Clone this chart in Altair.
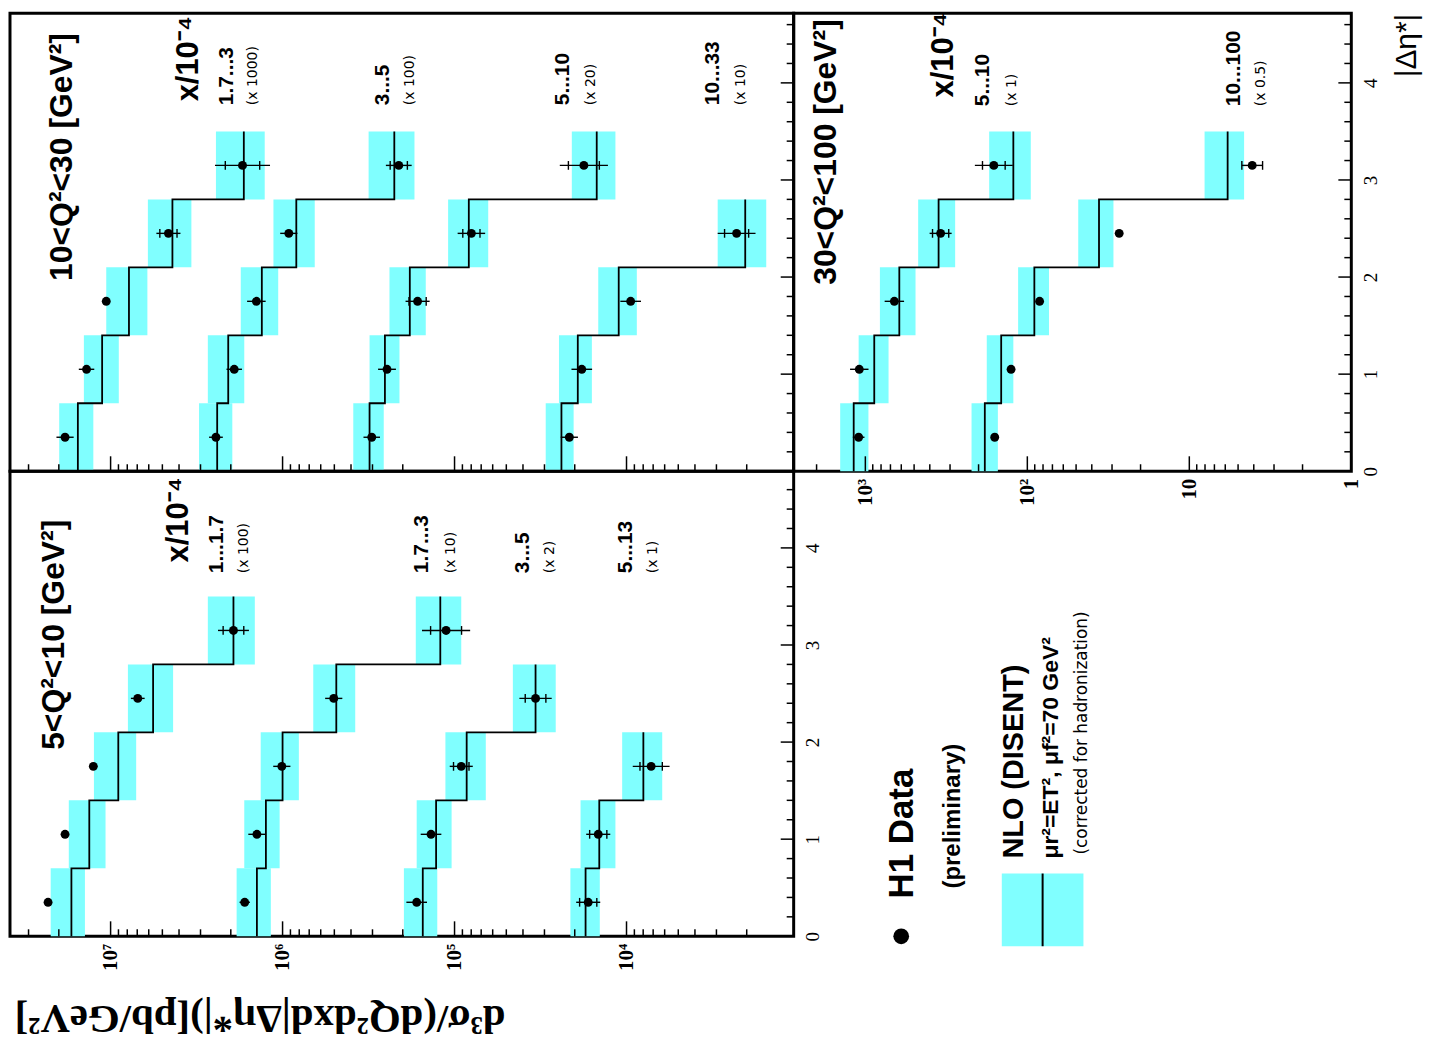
import math
import altair as alt
import pandas as pd
import numpy as np

BAND_COLOR = "#80ffff"
SANS = "Liberation Sans"
SERIF = "Liberation Serif"
SMALL = "DejaVu Sans"

# |Delta eta*| bin edges
ETA_EDGES = [0.0, 0.7, 1.4, 2.1, 2.8, 3.5]
HEADER_TEXT = "x/10⁻⁴"

# ---------------- 5 < Q^2 < 10 GeV^2 ----------------
Q1_TITLE = "5<Q²<10 [GeV²]"
Q1_XBIN = ["1...1.7", "1.7...3", "3...5", "5...13"]
Q1_FACTOR_TXT = ["(x 100)", "(x 10)", "(x 2)", "(x 1)"]
Q1_FACTOR = [100, 10, 2, 1]
Q1_DATA = [
    [2.31e5, 1.84e5, 1.26e5, 6.95e4, 1.93e4],
    [1.66e5, 1.41e5, 1.01e5, 5.04e4, 1.12e4],
    [8.30e4, 6.85e4, 4.57e4, 1.69e4],
    [1.67e4, 1.46e4, 7.19e3],
]
Q1_NLO = [
    [1.69e5, 1.33e5, 9.02e4, 5.66e4, 1.93e4],
    [1.41e5, 1.25e5, 1.00e5, 4.87e4, 1.21e4],
    [7.65e4, 6.40e4, 4.25e4, 1.69e4],
    [1.73e4, 1.44e4, 7.98e3],
]
Q1_NLO_LO = [
    [1.41e5, 1.07e5, 7.10e4, 4.33e4, 1.45e4],
    [1.17e5, 1.04e5, 8.04e4, 3.78e4, 9.14e3],
    [6.30e4, 5.20e4, 3.29e4, 1.29e4],
    [1.43e4, 1.16e4, 6.20e3],
]
Q1_NLO_HI = [
    [2.23e5, 1.75e5, 1.25e5, 7.93e4, 2.72e4],
    [1.85e5, 1.67e5, 1.34e5, 6.63e4, 1.68e4],
    [9.85e4, 8.30e4, 5.65e4, 2.29e4],
    [2.12e4, 1.85e4, 1.06e4],
]
Q1_ERR_TOT = [[0.02, 0.02, 0.02, 0.04, 0.09], [0.03, 0.05, 0.05, 0.05, 0.14],
              [0.06, 0.06, 0.067, 0.094], [0.07, 0.07, 0.107]]
Q1_ERR_STAT = [[0.02, 0.02, 0.02, 0.03, 0.06], [0.02, 0.03, 0.03, 0.03, 0.09],
               [0.04, 0.04, 0.045, 0.06], [0.05, 0.05, 0.065]]
# annotation anchors (x value, eta)
Q1_TITLE_POS = (2.14e7, 1.92)
Q1_HEAD_POS = (3.98e6, 3.85)
Q1_BIN_X = [2.40e6, 1.54e5, 4.01e4, 1.01e4]
Q1_FAC_X = [1.68e6, 1.05e5, 2.79e4, 6.98e3]
Q1_LABEL_ETA = 3.74

# ---------------- 10 < Q^2 < 30 GeV^2 ----------------
Q2_TITLE = "10<Q²<30 [GeV²]"
Q2_XBIN = ["1.7...3", "3...5", "5...10", "10...33"]
Q2_FACTOR_TXT = ["(x 1000)", "(x 100)", "(x 20)", "(x 10)"]
Q2_FACTOR = [1000, 100, 20, 10]
Q2_DATA = [
    [1.84e4, 1.38e4, 1.06e4, 4.61e3, 1.71e3],
    [2.44e4, 1.91e4, 1.42e4, 9.20e3, 2.11e3],
    [1.515e4, 1.235e4, 8.20e3, 3.99e3, 885],
    [2.15e3, 1.82e3, 946, 229],
]
Q2_NLO = [
    [1.55e4, 1.12e4, 7.82e3, 4.37e3, 1.68e3],
    [2.40e4, 2.07e4, 1.32e4, 8.32e3, 2.24e3],
    [1.56e4, 1.27e4, 9.10e3, 4.13e3, 745],
    [2.39e3, 1.92e3, 1.11e3, 204],
]
Q2_NLO_LO = [
    [1.26e4, 8.96e3, 6.11e3, 3.39e3, 1.27e3],
    [1.96e4, 1.67e4, 1.06e4, 6.50e3, 1.71e3],
    [1.29e4, 1.045e4, 7.35e3, 3.185e3, 580],
    [2.03e3, 1.59e3, 871, 154],
]
Q2_NLO_HI = [
    [1.99e4, 1.43e4, 1.06e4, 6.07e3, 2.44e3],
    [3.06e4, 2.72e4, 1.75e4, 1.13e4, 3.16e3],
    [1.94e4, 1.56e4, 1.195e4, 5.45e3, 1.04e3],
    [2.95e3, 2.47e3, 1.46e3, 295],
]
Q2_ERR_TOT = [[0.05, 0.045, 0.02, 0.07, 0.16], [0.04, 0.045, 0.054, 0.05, 0.075],
              [0.048, 0.052, 0.07, 0.08, 0.14], [0.05, 0.06, 0.06, 0.11]]
Q2_ERR_STAT = [[0.035, 0.03, 0.02, 0.05, 0.10], [0.03, 0.03, 0.04, 0.035, 0.05],
               [0.035, 0.035, 0.05, 0.05, 0.09], [0.035, 0.04, 0.04, 0.07]]
Q2_TITLE_POS = (1.92e7, 1.96)
Q2_HEAD_POS = (3.49e6, 3.81)
Q2_BIN_X = [2.10e6, 2.62e5, 2.35e4, 3.14e3]
Q2_FAC_X = [1.49e6, 1.81e5, 1.60e4, 2.16e3]
Q2_LABEL_ETA = 3.77

# ---------------- 30 < Q^2 < 100 GeV^2 ----------------
Q3_TITLE = "30<Q²<100 [GeV²]"
Q3_XBIN = ["5...10", "10...100"]
Q3_FACTOR_TXT = ["(x 1)", "(x 0.5)"]
Q3_FACTOR = [1, 0.5]
Q3_DATA = [
    [1.10e3, 1.09e3, 662, 343, 161],
    [318, 252, 168, 54.2, 8.18],
]
Q3_NLO = [
    [1.18e3, 881, 617, 353, 122],
    [366, 290, 181, 72.2, 11.6],
]
Q3_NLO_LO = [
    [957, 719, 490, 279, 95.2],
    [304, 244, 147, 58.8, 9.18],
]
Q3_NLO_HI = [
    [1.43e3, 1.10e3, 813, 472, 172],
    [442, 356, 228, 97.0, 16.1],
]
Q3_ERR_TOT = [[0.036, 0.057, 0.06, 0.068, 0.117], [0.02, 0.02, 0.02, 0.02, 0.064]]
Q3_ERR_STAT = [[0.03, 0.04, 0.04, 0.05, 0.07], [0.02, 0.02, 0.02, 0.02, 0.064]]
Q3_TITLE_POS = (1.76e3, 1.92)
Q3_HEAD_POS = (327, 3.85)
Q3_BIN_X = [189, 5.30]
Q3_FAC_X = [125, 3.61]
Q3_LABEL_ETA = 3.76

Y_TITLE = "d³σ/(dQ²dxd|Δη*|)[pb/GeV²]"
X_TITLE = "|Δη*|"

# error bars with a total error below this (in decades) are drawn without end ticks
TICK_MIN_ERR = 0.064

STYLES = {
    "title": dict(font=SANS, fontSize=32, fontWeight="bold"),
    "header": dict(font=SANS, fontSize=31, fontWeight="bold"),
    "bin": dict(font=SANS, fontSize=21, fontWeight="bold"),
    "factor": dict(font=SMALL, fontSize=14, fontWeight="normal"),
}


def log_ticks(dmin, dmax):
    major, minor = [], []
    for d in range(math.floor(math.log10(dmin)), math.ceil(math.log10(dmax)) + 1):
        for m in range(1, 10):
            v = m * 10.0 ** d
            if dmin <= v <= dmax:
                (major if m == 1 else minor).append(v)
    return major, minor


def make_panel(data, nlo, nlo_lo, nlo_hi, err_tot, err_stat, factors,
               title, title_pos, head_pos, bins, bin_x, facs, fac_x, label_eta,
               x_domain, width, height, eta_max, xaxis, yaxis):
    xs = alt.Scale(type="log", domain=x_domain, reverse=True, nice=False)
    ys = alt.Scale(type="linear", domain=[0, eta_max], nice=False, zero=False)

    def X(f):
        return alt.X(f, type="quantitative", scale=xs, axis=xaxis)

    def Y(f):
        return alt.Y(f, type="quantitative", scale=ys, axis=yaxis)

    band_rows, line_rows, pt_rows, tick_rows = [], [], [], []
    for s in range(len(data)):
        f = factors[s]
        for i in range(len(data[s])):
            e0, e1 = ETA_EDGES[i], ETA_EDGES[i + 1]
            c = 0.5 * (e0 + e1)
            band_rows.append(dict(s=s, lo=nlo_lo[s][i] * f, hi=nlo_hi[s][i] * f, e0=e0, e1=e1))
            line_rows.append(dict(s=s, k=2 * i, v=nlo[s][i] * f, eta=e0))
            line_rows.append(dict(s=s, k=2 * i + 1, v=nlo[s][i] * f, eta=e1))
            v = data[s][i] * f
            pt_rows.append(dict(s=s, v=v, eta=c,
                                elo=v * 10 ** (-err_tot[s][i]), ehi=v * 10 ** (err_tot[s][i])))
            if err_tot[s][i] >= TICK_MIN_ERR:
                for sign in (-1, 1):
                    tick_rows.append(dict(v=v * 10 ** (sign * err_stat[s][i]),
                                          y0=c - 0.045, y1=c + 0.045))

    band_df = pd.DataFrame(band_rows)
    line_df = pd.DataFrame(line_rows)
    pt_df = pd.DataFrame(pt_rows)
    tick_df = pd.DataFrame(tick_rows)

    bands = alt.Chart(band_df).mark_rect(color=BAND_COLOR, opacity=1).encode(
        x=X("lo"), x2="hi", y=Y("e0"), y2="e1")
    lines = alt.Chart(line_df).mark_line(color="black", strokeWidth=1.8).encode(
        x=X("v"), y=Y("eta"), detail="s:N", order="k:Q")
    errs = alt.Chart(pt_df).mark_rule(color="black", strokeWidth=1.4).encode(
        x=X("elo"), x2="ehi", y=Y("eta"))
    sticks = alt.Chart(tick_df).mark_rule(color="black", strokeWidth=1.4).encode(
        x=X("v"), y=Y("y0"), y2="y1")
    pts = alt.Chart(pt_df).mark_circle(color="black", size=80, opacity=1).encode(
        x=X("v"), y=Y("eta"))

    major, minor = log_ticks(*x_domain)
    lmaj = alt.Chart(pd.DataFrame({"v": major})).mark_rule(color="black", strokeWidth=1.5).encode(
        x=X("v"), y=alt.value(height - 15), y2=alt.value(height))
    lmin = alt.Chart(pd.DataFrame({"v": minor})).mark_rule(color="black", strokeWidth=1.5).encode(
        x=X("v"), y=alt.value(height - 7), y2=alt.value(height))
    eta_major = [float(t) for t in range(0, int(eta_max) + 1)]
    eta_minor = [round(t, 1) for t in np.arange(0.2, eta_max, 0.2) if abs(t - round(t)) > 1e-6]
    emaj = alt.Chart(pd.DataFrame({"t": eta_major})).mark_rule(color="black", strokeWidth=1.5).encode(
        y=Y("t"), x=alt.value(width - 13), x2=alt.value(width))
    emin = alt.Chart(pd.DataFrame({"t": eta_minor})).mark_rule(color="black", strokeWidth=1.5).encode(
        y=Y("t"), x=alt.value(width - 7), x2=alt.value(width))

    ann = [dict(style="title", text=title, x=title_pos[0], eta=title_pos[1]),
           dict(style="header", text=HEADER_TEXT, x=head_pos[0], eta=head_pos[1])]
    for t, xv in zip(bins, bin_x):
        ann.append(dict(style="bin", text=t, x=xv, eta=label_eta))
    for t, xv in zip(facs, fac_x):
        ann.append(dict(style="factor", text=t, x=xv, eta=label_eta))
    ann_df = pd.DataFrame(ann)
    texts = []
    for st, kw in STYLES.items():
        sub = ann_df[ann_df["style"] == st]
        texts.append(alt.Chart(sub).mark_text(angle=270, align="left", baseline="middle",
                                              color="black", **kw).encode(
            x=X("x"), y=Y("eta"), text="text:N"))

    return alt.layer(bands, lines, errs, sticks, pts, lmaj, lmin, emaj, emin, *texts).properties(
        width=width, height=height)


LEFT_DOMAIN = [10 ** 3.028, 10 ** 7.585]
RIGHT_DOMAIN = [1.0, 2770.0]
W_LEFT, W_RIGHT = 787, 560
H_TOP, H_BOT = 460, 467
ETA_TOP = H_TOP / 97.5
ETA_BOT = H_BOT / 97.5

log_label_style = dict(ticks=False, tickSize=0, domain=False, grid=False, labelAngle=270,
                       labelAlign="right", labelBaseline="middle", labelPadding=7,
                       labelFont=SERIF, labelFontSize=21, labelFontWeight="bold",
                       labelColor="black", labelFlush=False, labelOverlap=False)
eta_label_style = dict(orient="right", values=[0, 1, 2, 3, 4], format="d", ticks=False, tickSize=0,
                       domain=False, grid=False, labelAngle=270, labelAlign="center",
                       labelBaseline="top", labelPadding=10, labelFont=SERIF, labelFontSize=19,
                       labelColor="black", labelFlush=False, labelOverlap=False)

ax_bl_x = alt.Axis(values=[1e4, 1e5, 1e6, 1e7],
                   labelExpr="'10' + (datum.value > 5e6 ? '⁷' : datum.value > 5e5 ? '⁶' : datum.value > 5e4 ? '⁵' : '⁴')",
                   title=Y_TITLE, titleAngle=180, titleAlign="left", titleBaseline="middle",
                   titleX=497, titleY=82, titleFont=SERIF, titleFontSize=41, titleFontWeight="bold",
                   titleColor="black", titleLimit=2000, **log_label_style)
ax_bl_y = alt.Axis(title=None, **eta_label_style)
ax_r_x = alt.Axis(values=[1, 10, 100, 1000],
                  labelExpr="datum.value < 5 ? '1' : datum.value < 50 ? '10' : datum.value < 500 ? '10²' : '10³'",
                  title=None, **log_label_style)
ax_r_y = alt.Axis(title=X_TITLE, titleAngle=270, titleAlign="right", titleBaseline="middle",
                  titleX=55, titleY=0, titleFont=SANS, titleFontSize=30, titleFontWeight="normal",
                  titleColor="black", titleLimit=500, **eta_label_style)

top_left = make_panel(Q2_DATA, Q2_NLO, Q2_NLO_LO, Q2_NLO_HI, Q2_ERR_TOT, Q2_ERR_STAT, Q2_FACTOR,
                      Q2_TITLE, Q2_TITLE_POS, Q2_HEAD_POS, Q2_XBIN, Q2_BIN_X, Q2_FACTOR_TXT, Q2_FAC_X,
                      Q2_LABEL_ETA, LEFT_DOMAIN, W_LEFT, H_TOP, ETA_TOP, None, None)
right = make_panel(Q3_DATA, Q3_NLO, Q3_NLO_LO, Q3_NLO_HI, Q3_ERR_TOT, Q3_ERR_STAT, Q3_FACTOR,
                   Q3_TITLE, Q3_TITLE_POS, Q3_HEAD_POS, Q3_XBIN, Q3_BIN_X, Q3_FACTOR_TXT, Q3_FAC_X,
                   Q3_LABEL_ETA, RIGHT_DOMAIN, W_RIGHT, H_TOP, ETA_TOP, ax_r_x, ax_r_y)
bottom_left = make_panel(Q1_DATA, Q1_NLO, Q1_NLO_LO, Q1_NLO_HI, Q1_ERR_TOT, Q1_ERR_STAT, Q1_FACTOR,
                         Q1_TITLE, Q1_TITLE_POS, Q1_HEAD_POS, Q1_XBIN, Q1_BIN_X, Q1_FACTOR_TXT, Q1_FAC_X,
                         Q1_LABEL_ETA, LEFT_DOMAIN, W_LEFT, H_BOT, ETA_BOT, ax_bl_x, ax_bl_y)

# ---------------- legend ----------------
LEG_DATA = "H1 Data"
LEG_PRELIM = "(preliminary)"
LEG_NLO = "NLO (DISENT)"
LEG_SCALES = "μr²=ET², μf²=70 GeV²"
LEG_HADR = "(corrected for hadronization)"

one = pd.DataFrame({"a": [0]})
lb = alt.Chart(one)
rot = dict(angle=270, align="left", baseline="middle", color="black")
legend = alt.layer(
    lb.mark_circle(color="black", size=250, opacity=1).encode(x=alt.value(108), y=alt.value(467)),
    lb.mark_text(text=LEG_DATA, font=SANS, fontSize=35, fontWeight="bold", **rot).encode(
        x=alt.value(109), y=alt.value(429)),
    lb.mark_text(text=LEG_PRELIM, font=SANS, fontSize=24, fontWeight="bold", **rot).encode(
        x=alt.value(160), y=alt.value(419)),
    lb.mark_rect(color=BAND_COLOR, opacity=1).encode(
        x=alt.value(209), x2=alt.value(291), y=alt.value(404), y2=alt.value(477)),
    lb.mark_rule(color="black", strokeWidth=2).encode(
        x=alt.value(250), y=alt.value(404), y2=alt.value(477)),
    lb.mark_text(text=LEG_NLO, font=SANS, fontSize=29, fontWeight="bold", **rot).encode(
        x=alt.value(221), y=alt.value(389)),
    lb.mark_text(text=LEG_SCALES, font=SANS, fontSize=23, fontWeight="bold", **rot).encode(
        x=alt.value(258), y=alt.value(389)),
    lb.mark_text(text=LEG_HADR, font=SMALL, fontSize=17, fontWeight="normal", **rot).encode(
        x=alt.value(290), y=alt.value(385)),
).properties(width=W_RIGHT, height=H_BOT, view=alt.ViewBackground(stroke="transparent"))

chart = alt.concat(top_left, right, bottom_left, legend, columns=2, spacing=0,
                   bounds="flush", align="each").properties(padding=0).configure_view(
    stroke="black", strokeWidth=3)

chart.save("out.html", embed_options={"renderer": "svg", "actions": False})
